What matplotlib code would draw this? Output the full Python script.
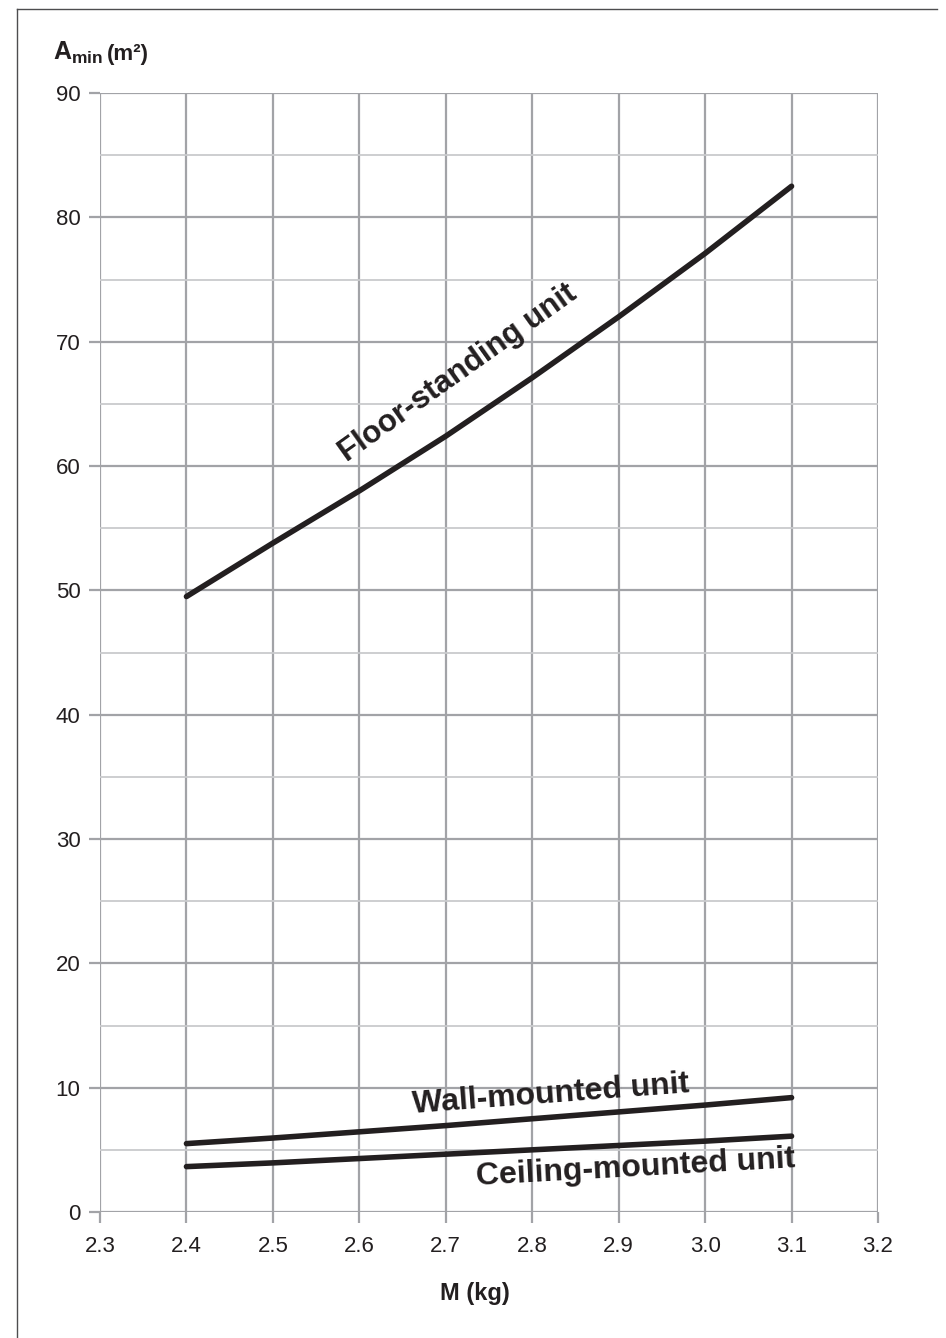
import matplotlib
matplotlib.use("Agg")
import matplotlib.pyplot as plt
from matplotlib.lines import Line2D
from matplotlib.ticker import MultipleLocator

plt.rcParams['font.family'] = ['Liberation Sans', 'DejaVu Sans']
plt.rcParams['mathtext.fontset'] = 'custom'
plt.rcParams['mathtext.rm'] = 'Liberation Sans'
plt.rcParams['mathtext.bf'] = 'Liberation Sans:bold'

# Data
mass_kg = [2.4, 2.5, 2.6, 2.7, 2.8, 2.9, 3.0, 3.1]
floor_standing = [49.5, 53.8, 58.0, 62.4, 67.1, 72.0, 77.1, 82.5]
wall_mounted = [5.5, 5.95, 6.45, 6.95, 7.5, 8.05, 8.6, 9.2]
ceiling_mounted = [3.65, 3.95, 4.3, 4.65, 5.0, 5.35, 5.7, 6.1]
x_ticks = [2.3, 2.4, 2.5, 2.6, 2.7, 2.8, 2.9, 3.0, 3.1, 3.2]
y_ticks = [0, 10, 20, 30, 40, 50, 60, 70, 80, 90]

W, H = 946, 1338
fig = plt.figure(figsize=(W / 100, H / 100), dpi=100)
ax = fig.add_axes([100 / W, 1 - 1212 / H, 778 / W, 1119 / H])

ink = '#231f20'
major_c = '#a2a3a7'
minor_c = '#c9cacd'

ax.set_xlim(2.3, 3.2)
ax.set_ylim(0, 90)
ax.set_xticks(x_ticks)
ax.set_xticklabels([f"{v:.1f}" for v in x_ticks])
ax.set_yticks(y_ticks)
ax.yaxis.set_minor_locator(MultipleLocator(5))
ax.grid(True, which='major', color=major_c, linewidth=1.6, zorder=0)
ax.grid(True, which='minor', axis='y', color=minor_c, linewidth=1.3, zorder=0)
for s in ax.spines.values():
    s.set_visible(False)
ax.tick_params(which='major', length=8, width=1.6, color=major_c,
               labelsize=16, labelcolor=ink, pad=6)
ax.tick_params(which='minor', length=0)
ax.tick_params(axis='x', pad=9)

lw = 4.0
for ys in (floor_standing, wall_mounted, ceiling_mounted):
    ax.plot(mass_kg, ys, color=ink, linewidth=lw, solid_capstyle='round',
            zorder=3, clip_on=False)

txt_kw = dict(color=ink, fontsize=23, fontweight='bold', ha='center',
              va='baseline', rotation_mode='anchor', zorder=4)
ax.text(2.720, 66.9, 'Floor-standing unit', rotation=35.5, fontsize=22.5,
        **{k: v for k, v in txt_kw.items() if k != 'fontsize'})
ax.text(2.822, 8.81, 'Wall-mounted unit', rotation=4.3, **txt_kw)
ax.text(2.920, 2.9, 'Ceiling-mounted unit', rotation=3.2, **txt_kw)

fig.text(53 / W, 1 - 60 / H, r'$\mathbf{A}_{\mathbf{min}}$', fontsize=18,
         color=ink, ha='left', va='baseline')
fig.text(107 / W, 1 - 60 / H, '(m²)', fontsize=16, fontweight='bold',
         color=ink, ha='left', va='baseline')
fig.text(475 / W, 1 - 1300 / H, 'M (kg)', fontsize=17, fontweight='bold',
         color=ink, ha='center', va='baseline')

# Page frame (left and top border)
fig.add_artist(Line2D([16.5 / W, 16.5 / W], [0, 1 - 9 / H], color='#4d4d4f',
                      linewidth=1.0, transform=fig.transFigure))
fig.add_artist(Line2D([16.5 / W, 937 / W], [1 - 9 / H, 1 - 9 / H], color='#4d4d4f',
                      linewidth=1.0, transform=fig.transFigure))

fig.savefig('out.png', dpi=100)
